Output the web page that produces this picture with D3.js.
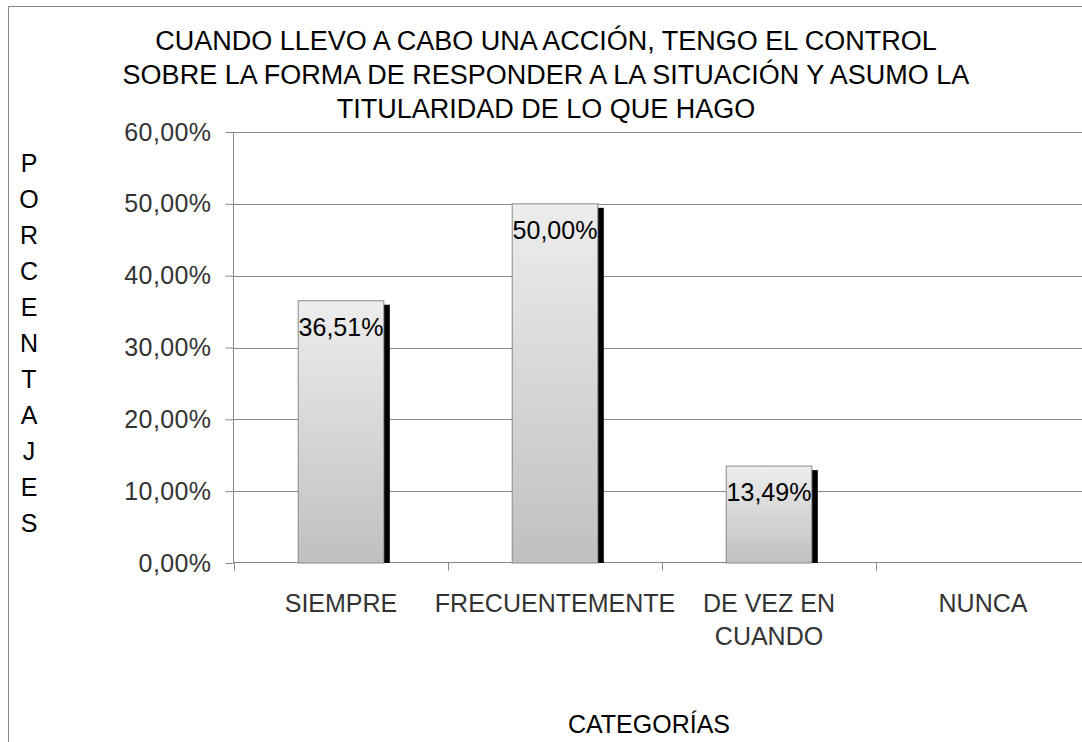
<!DOCTYPE html>
<html>
<head>
<meta charset="utf-8">
<script src="https://cdn.jsdelivr.net/npm/d3@7"></script>
<style>
  body { margin: 0; background: #fff; }
  text { font-family: "Liberation Sans", Arial, sans-serif; }
</style>
</head>
<body>
<svg width="1082" height="742"></svg>
<script>
const categories = ["SIEMPRE", "FRECUENTEMENTE", "DE VEZ EN|CUANDO", "NUNCA"]
const values = [36.51, 50.00, 13.49, 0]
const yTicks = [0, 10, 20, 30, 40, 50, 60]
const titleLines = [
    "CUANDO LLEVO A CABO UNA ACCIÓN, TENGO EL CONTROL",
    "SOBRE LA FORMA DE RESPONDER A LA SITUACIÓN Y ASUMO LA",
    "TITULARIDAD DE LO QUE HAGO"
]
const yTitle = "PORCENTAJES"
const xTitle = "CATEGORÍAS"

const svg = d3.select("svg")

const plotLeft = 234, plotRight = 1090, plotTop = 132, plotBottom = 563
const grey = "#888"

const fmt = v => d3.format(".2f")(v).replace(".", ",") + "%"

// outer frame (cut off at right and bottom like the original)
svg.append("rect")
    .attr("x", 8.5).attr("y", 6.5)
    .attr("width", 1200).attr("height", 900)
    .attr("fill", "none").attr("stroke", grey)

const x = d3.scaleBand().domain(categories).range([plotLeft, plotRight])
const y = d3.scaleLinear().domain([0, 60]).range([plotBottom, plotTop])

const defs = svg.append("defs")
const grad = defs.append("linearGradient")
    .attr("id", "barGrad").attr("x1", 0).attr("y1", 0).attr("x2", 0).attr("y2", 1)
grad.append("stop").attr("offset", "0%").attr("stop-color", "#ededed")
grad.append("stop").attr("offset", "100%").attr("stop-color", "#c0c0c0")

// gridlines
svg.append("g").selectAll("line").data(yTicks.filter(d => d > 0))
    .enter().append("line")
    .attr("x1", plotLeft).attr("x2", plotRight)
    .attr("y1", d => Math.round(y(d)) + 0.5).attr("y2", d => Math.round(y(d)) + 0.5)
    .attr("stroke", grey)

// y axis
const yAxis = svg.append("g")
    .attr("transform", `translate(${plotLeft - 0.5},0)`)
    .call(d3.axisLeft(y).tickValues(yTicks).tickSize(8).tickPadding(14).tickFormat(fmt))
yAxis.select(".domain").attr("stroke", grey).attr("d", `M0,${plotTop}V${plotBottom}`)
yAxis.selectAll(".tick line").attr("stroke", grey)
yAxis.selectAll(".tick text")
    .attr("fill", "#333").style("font-size", "25px").style("letter-spacing", "0.4px")
    .style("font-family", "'Liberation Sans', Arial, sans-serif")

// x axis
const xAxis = svg.append("g").attr("transform", `translate(0,${plotBottom - 0.5})`)
xAxis.append("line").attr("x1", plotLeft).attr("x2", plotRight).attr("stroke", grey)
xAxis.selectAll(".tk").data(categories.map(c => x(c)))
    .enter().append("line").attr("class", "tk")
    .attr("x1", d => d + 0.5).attr("x2", d => d + 0.5)
    .attr("y1", 0).attr("y2", 8).attr("stroke", grey)

const catLabels = svg.append("g").selectAll("text").data(categories)
    .enter().append("text")
    .attr("x", d => x(d) + x.bandwidth() / 2)
    .attr("y", 612)
    .attr("text-anchor", "middle")
    .attr("fill", "#333")
    .style("font-size", "25px")
catLabels.each(function (d) {
    const parts = d.split("|")
    d3.select(this).selectAll("tspan").data(parts).enter().append("tspan")
        .attr("x", x(d) + x.bandwidth() / 2)
        .attr("dy", (p, i) => i === 0 ? 0 : 33)
        .text(p => p)
})

// bars
const barW = x.bandwidth() * 0.4
const data = categories.map((c, i) => ({ c, v: values[i] })).filter(d => d.v > 0)
const bars = svg.append("g")

bars.selectAll(".shadow").data(data).enter().append("rect")
    .attr("class", "shadow")
    .attr("x", d => x(d.c) + (x.bandwidth() - barW) / 2 + barW)
    .attr("y", d => y(d.v) + 4)
    .attr("width", 6)
    .attr("height", d => plotBottom - y(d.v) - 4)
    .attr("fill", "#000")

bars.selectAll(".bar").data(data).enter().append("rect")
    .attr("class", "bar")
    .attr("x", d => x(d.c) + (x.bandwidth() - barW) / 2)
    .attr("y", d => y(d.v))
    .attr("width", barW)
    .attr("height", d => plotBottom - y(d.v))
    .attr("fill", "url(#barGrad)")
    .attr("stroke", grey)

bars.selectAll(".lbl").data(data).enter().append("text")
    .attr("class", "lbl")
    .attr("x", d => x(d.c) + x.bandwidth() / 2)
    .attr("y", d => y(d.v) + 35)
    .attr("text-anchor", "middle")
    .attr("fill", "#000")
    .style("font-size", "25px")
    .text(d => fmt(d.v))

// title
svg.append("g").selectAll("text").data(titleLines)
    .enter().append("text")
    .attr("x", 546)
    .attr("y", (d, i) => 50 + i * 34)
    .attr("text-anchor", "middle")
    .attr("fill", "#000")
    .style("font-size", "27px")
    .text(d => d)

// vertical y title, one letter per line
svg.append("g").selectAll("text").data(yTitle.split(""))
    .enter().append("text")
    .attr("x", 29)
    .attr("y", (d, i) => 172 + i * 36)
    .attr("text-anchor", "middle")
    .attr("fill", "#000")
    .style("font-size", "25px")
    .text(d => d)

svg.append("text")
    .attr("x", 649).attr("y", 733)
    .attr("text-anchor", "middle")
    .attr("fill", "#000")
    .style("font-size", "25px")
    .text(xTitle)
</script>
</body>
</html>
